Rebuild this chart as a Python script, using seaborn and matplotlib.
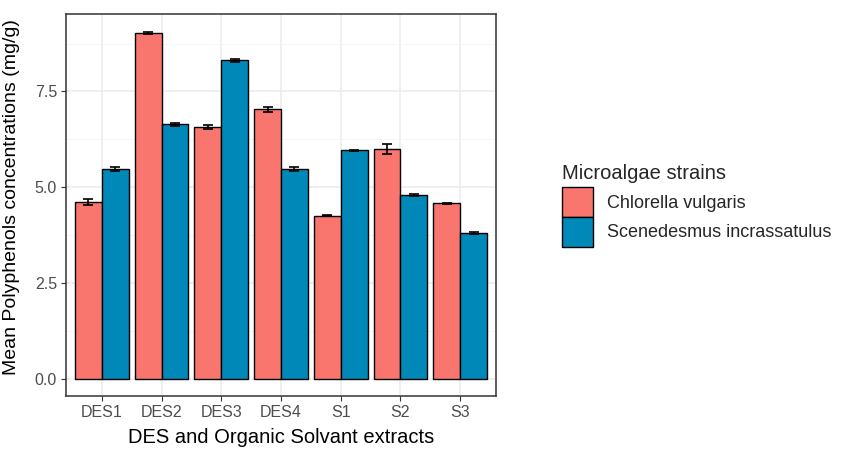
import numpy as np
import pandas as pd
import matplotlib
matplotlib.use("Agg")
import matplotlib.pyplot as plt
import seaborn as sns

categories = ["DES1", "DES2", "DES3", "DES4", "S1", "S2", "S3"]
strains = ["Chlorella vulgaris", "Scenedesmus incrassatulus"]
chlorella_mean = [4.62, 9.03, 6.58, 7.03, 4.26, 6.00, 4.58]
chlorella_err = [0.08, 0.03, 0.05, 0.07, 0.02, 0.14, 0.02]
scened_mean = [5.47, 6.64, 8.31, 5.47, 5.96, 4.80, 3.80]
scened_err = [0.06, 0.04, 0.04, 0.06, 0.02, 0.02, 0.02]
colors = ["#F8766D", "#0089B8"]

df = pd.DataFrame({
    "extract": categories * 2,
    "strain": [strains[0]] * len(categories) + [strains[1]] * len(categories),
    "mean": chlorella_mean + scened_mean,
    "err": chlorella_err + scened_err,
})

sns.set_theme(style="whitegrid")
plt.rcParams["font.family"] = ["Liberation Sans", "DejaVu Sans"]

fig = plt.figure(figsize=(8.41, 4.49), dpi=100)
ax = fig.add_axes([66 / 841, 1 - 396 / 449, 430 / 841, 382 / 449])

sns.barplot(data=df, x="extract", y="mean", hue="strain", order=categories,
            hue_order=strains, palette=colors, width=0.9, saturation=1,
            edgecolor="black", linewidth=1.0, errorbar=None, ax=ax)

# error bars at bar centres
for cont, s in zip(ax.containers, strains):
    sub = df[df["strain"] == s].set_index("extract").loc[categories]
    xs = [p.get_x() + p.get_width() / 2 for p in cont.patches]
    ax.errorbar(xs, sub["mean"].values, yerr=sub["err"].values, fmt="none",
                ecolor="black", elinewidth=1.2, capsize=3.5, capthick=1.2, zorder=5)

ax.set_xlim(-0.6, 6.6)
ax.set_ylim(-0.45, 9.52)
ax.set_yticks([0, 2.5, 5.0, 7.5])
ax.set_yticklabels(["0.0", "2.5", "5.0", "7.5"])
ax.set_yticks([1.25, 3.75, 6.25, 8.75], minor=True)
ax.set_facecolor("white")
ax.grid(which="major", color="#EBEBEB", linewidth=1.1)
ax.grid(which="minor", axis="y", color="#F4F4F4", linewidth=0.6)
ax.set_axisbelow(True)
for sp in ax.spines.values():
    sp.set_color("#333333")
    sp.set_linewidth(1.1)
ax.tick_params(axis="both", which="major", length=3.5, color="#333333",
               labelcolor="#4D4D4D", labelsize=11.5, width=0.8, pad=3, left=True, bottom=True)
ax.tick_params(axis="both", which="minor", length=0)
ax.set_xlabel("DES and Organic Solvant extracts", fontsize=14.5, color="black", labelpad=6)
ax.set_ylabel("Mean Polyphenols concentrations (mg/g)", fontsize=14, color="black", labelpad=3)
ax.yaxis.set_label_coords(-0.108, 0.52)

leg = ax.legend(title="Microalgae strains", loc="upper left", bbox_to_anchor=(1.137, 0.626),
                frameon=False, fontsize=13, title_fontsize=14.5, handlelength=1.7,
                handleheight=2.15, handletextpad=0.8, labelspacing=0.0, borderaxespad=0)
leg._legend_box.align = "left"
leg._legend_box.sep = 3
for h in leg.legend_handles:
    h.set_edgecolor("black")
    h.set_linewidth(1.0)

fig.savefig("out.png", dpi=100)
